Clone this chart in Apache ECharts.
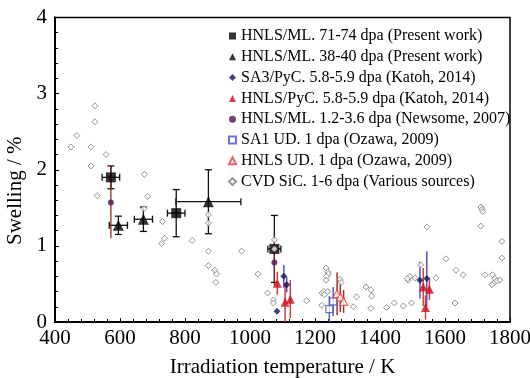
<!DOCTYPE html>
<html><head><meta charset="utf-8">
<script src="https://cdn.jsdelivr.net/npm/echarts@6/dist/echarts.min.js"></script>
<style>html,body{margin:0;padding:0;background:#fff}#c{width:530px;height:378px}</style>
</head><body><div id="c"></div>
<script>
// ---- data ----
var names = [
  'HNLS/ML. 71-74 dpa (Present work)',
  'HNLS/ML. 38-40 dpa (Present work)',
  'SA3/PyC. 5.8-5.9 dpa (Katoh, 2014)',
  'HNLS/PyC. 5.8-5.9 dpa (Katoh, 2014)',
  'HNLS/ML. 1.2-3.6 dpa (Newsome, 2007)',
  'SA1 UD. 1 dpa (Ozawa, 2009)',
  'HNLS UD. 1 dpa (Ozawa, 2009)',
  'CVD SiC. 1-6 dpa (Various sources)'
];
var xTicks = [400, 600, 800, 1000, 1200, 1400, 1600, 1800];
var yTicks = [0, 1, 2, 3, 4];

var hnls7174X = [572, 773, 1075];
var hnls7174Y = [1.90, 1.43, 0.96];
var hnls7174XErr = [27, 27, 20];
var hnls7174YErr = [0.15, 0.31, 0.44];

var hnls3840X = [595, 672, 872];
var hnls3840Y = [1.27, 1.35, 1.58];
var hnls3840XErr = [28, 28, 100];
var hnls3840YErr = [0.12, 0.16, 0.42];

var sa3X = [1083, 1104, 1113, 1523, 1544];
var sa3Y = [0.14, 0.60, 0.49, 0.55, 0.57];
var sa3YErr = [0, 0.15, 0.10, 0.24, 0.36];

var hnlsPyCX = [1084, 1108, 1124, 1533, 1540, 1552];
var hnlsPyCY = [0.51, 0.26, 0.30, 0.46, 0.19, 0.43];
var hnlsPyCYErr = [0.15, 0.26, 0.25, 0.25, 0.16, 0.14];

var newsomeX = [572, 1075];
var newsomeY = [1.57, 0.78];
var newsomeYErr = [0.47, 0.30];

var sa1X = [1244, 1256];
var sa1Y = [0.17, 0.27];
var sa1YErr = [0.17, 0.19];

var hnlsUDX = [1268, 1278, 1288];
var hnlsUDY = [0.37, 0.33, 0.27];
var hnlsUDYErr = [0.28, 0.20, 0.15];

var cvdX = [523,523,467,449,511,557,511,675,530,685,674,731,728,737,872,872,822,872,974,872,892,897,895,1024,1054,1072,1072,1075,1075,1174,1234,1239,1241,1236,1234,1222,1227,1229,1221,1239,1277,1280,1328,1318,1357,1372,1374,1372,1420,1444,1472,1497,1487,1492,1484,1508,1525,1545,1603,1634,1656,1572,1631,1711,1714,1716,1710,1775,1775,1723,1746,1754,1759,1749,1744,1769];
var cvdY = [2.84,2.63,2.45,2.30,2.30,2.20,2.05,1.94,1.66,1.65,1.49,1.32,1.03,1.10,1.41,1.30,1.07,0.93,0.93,0.74,0.68,0.63,0.52,0.63,0.38,0.29,0.25,1.08,0.96,0.28,0.71,0.66,0.63,0.60,0.55,0.38,0.40,0.36,0.22,0.40,0.56,0.52,0.33,0.20,0.46,0.42,0.34,0.18,0.19,0.25,0.21,0.25,0.55,0.60,0.57,0.58,0.75,1.25,0.83,0.68,0.62,0.58,0.25,1.51,1.48,1.45,1.26,1.06,0.84,0.62,0.62,0.57,0.54,0.51,0.49,0.55];

// ---- helpers ----
function pts(xs, ys) { return xs.map(function (x, i) { return [x, ys[i]]; }); }
function errData(xs, ys, xe, ye) {
  return xs.map(function (x, i) { return [x, ys[i], xe ? xe[i] : 0, ye ? ye[i] : 0]; });
}
function errSeries(data, color, cap, width) {
  return {
    type: 'custom', silent: true, z: 1,
    data: data,
    renderItem: function (params, api) {
      var x = api.value(0), y = api.value(1), dx = api.value(2), dy = api.value(3);
      var ch = [];
      var st = { stroke: color, lineWidth: width };
      if (dy > 0) {
        var t = api.coord([x, y + dy]), b = api.coord([x, Math.max(0, y - dy)]);
        ch.push({ type: 'line', shape: { x1: t[0], y1: t[1], x2: b[0], y2: b[1] }, style: st });
        if (cap) {
          ch.push({ type: 'line', shape: { x1: t[0] - cap, y1: t[1], x2: t[0] + cap, y2: t[1] }, style: st });
          if (y - dy > 0) ch.push({ type: 'line', shape: { x1: b[0] - cap, y1: b[1], x2: b[0] + cap, y2: b[1] }, style: st });
        }
      }
      if (dx > 0) {
        var l = api.coord([x - dx, y]), r = api.coord([x + dx, y]);
        ch.push({ type: 'line', shape: { x1: l[0], y1: l[1], x2: r[0], y2: r[1] }, style: st });
        if (cap) {
          ch.push({ type: 'line', shape: { x1: l[0], y1: l[1] - cap, x2: l[0], y2: l[1] + cap }, style: st });
          ch.push({ type: 'line', shape: { x1: r[0], y1: r[1] - cap, x2: r[0], y2: r[1] + cap }, style: st });
        }
      }
      return { type: 'group', children: ch };
    }
  };
}
function sc(name, data, symbol, size, fill, border, bw, z) {
  return {
    name: name, type: 'scatter', data: data, symbol: symbol, symbolSize: size, z: z || 3,
    itemStyle: { color: fill, borderColor: border, borderWidth: bw }
  };
}

var font = 'Liberation Serif, Times New Roman, serif';
var chart = echarts.init(document.getElementById('c'), null, { renderer: 'canvas' });
chart.setOption({
  animation: false,
  backgroundColor: '#fff',
  grid: { left: 55, right: 20, top: 17.5, bottom: 56, outerBoundsMode: 'none', containLabel: false, show: true, borderColor: '#000', borderWidth: 1.5, backgroundColor: 'transparent' },
  legend: {
    data: names, orient: 'vertical', left: 223, top: 23, itemWidth: 7, itemHeight: 7, itemGap: 4.8,
    textStyle: { fontFamily: font, fontSize: 16, color: '#000', lineHeight: 16 },
    selectedMode: false
  },
  xAxis: {
    type: 'value', min: xTicks[0], max: xTicks[xTicks.length - 1], interval: 200,
    name: 'Irradiation temperature / K', nameLocation: 'middle', nameGap: 35,
    nameTextStyle: { fontFamily: font, fontSize: 21, color: '#000' },
    axisLine: { lineStyle: { color: '#000', width: 2 } },
    axisTick: { inside: true, length: 4, lineStyle: { color: '#000' } },
    minorTick: { show: true, splitNumber: 5, length: 3, lineStyle: { color: '#000' } },
    axisLabel: { fontFamily: font, fontSize: 21, color: '#000', margin: 6, formatter: function (v) { return String(v); } },
    splitLine: { show: false }
  },
  yAxis: {
    type: 'value', min: yTicks[0], max: yTicks[yTicks.length - 1], interval: 1,
    name: 'Swelling / %', nameLocation: 'middle', nameGap: 27,
    nameTextStyle: { fontFamily: font, fontSize: 21, color: '#000', padding: [0, 42, 0, 0] },
    axisLine: { lineStyle: { color: '#000', width: 2 } },
    axisTick: { inside: true, length: 4, lineStyle: { color: '#000' } },
    minorTick: { show: true, splitNumber: 5, length: 3, lineStyle: { color: '#000' } },
    axisLabel: { fontFamily: font, fontSize: 21, color: '#000', margin: 8, formatter: function (v) { return String(v); } },
    splitLine: { show: false }
  },
  series: [
    errSeries(errData(hnls7174X, hnls7174Y, hnls7174XErr, hnls7174YErr), '#111', 3.5, 1.3),
    errSeries(errData(hnls3840X, hnls3840Y, hnls3840XErr, hnls3840YErr), '#111', 3.5, 1.3),
    errSeries(errData(newsomeX, newsomeY, null, newsomeYErr), '#8b1a1a', 0, 1.2),
    errSeries(errData(sa3X, sa3Y, null, sa3YErr), '#5555b5', 0, 1.5),
    errSeries(errData(hnlsPyCX, hnlsPyCY, null, hnlsPyCYErr), '#d04040', 0, 1.5),
    errSeries(errData(sa1X, sa1Y, null, sa1YErr), '#5566cc', 0, 1.5),
    errSeries(errData(hnlsUDX, hnlsUDY, null, hnlsUDYErr), '#b02a2a', 0, 1.5),
    sc(names[7], pts(cvdX, cvdY), 'diamond', 6, '#fff', '#777', 1, 4),
    sc(names[0], pts(hnls7174X, hnls7174Y), 'rect', 10, '#000', '#000', 0, 3),
    sc(names[1], pts(hnls3840X, hnls3840Y), 'triangle', 11, '#000', '#000', 0, 3),
    sc(names[2], pts(sa3X, sa3Y), 'diamond', 7, '#141460', '#141460', 0, 5),
    sc(names[3], pts(hnlsPyCX, hnlsPyCY), 'triangle', 9, '#cc1020', '#cc1020', 0, 5),
    sc(names[4], pts(newsomeX, newsomeY), 'circle', 6, '#5a1050', '#5a1050', 0, 5),
    sc(names[5], pts(sa1X, sa1Y), 'rect', 7, '#fff', '#4455bb', 1.2, 5),
    sc(names[6], pts(hnlsUDX, hnlsUDY), 'triangle', 8, '#fff', '#e04040', 1.2, 5)
  ]
});
</script></body></html>
